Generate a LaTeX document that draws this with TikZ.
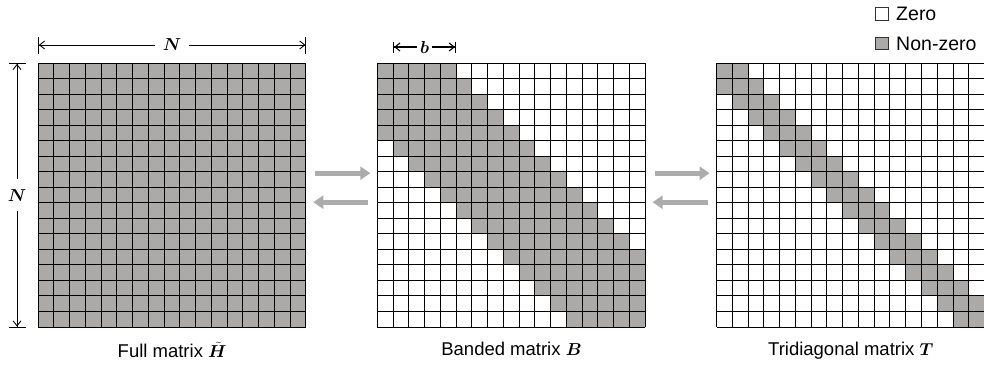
\documentclass[tikz,border=0pt]{standalone}
\usepackage{amsmath,amssymb,bm}
\usepackage{fontspec}
\setmainfont{Liberation Sans}
\usepackage{xcolor}
\usetikzlibrary{arrows.meta,positioning,calc}

\definecolor{nzgray}{RGB}{172,169,169}
\definecolor{flowgray}{RGB}{172,172,172}

\newcommand{\cellw}{15.76}
\newcommand{\cellh}{15.53}

\begin{document}
\begin{tikzpicture}[
		x=1pt,y=-1pt,
		every node/.style={font=\fontsize{18.5}{20}\selectfont},
		matbox/.style={
			draw=none,
			inner sep=0pt,
			minimum width=267.9pt,
			minimum height=264pt
		},
		gridline/.style={line width=1pt,black},
		flow/.style={
			line width=5pt,
			draw=flowgray,
			-{Triangle[length=10pt,width=13pt]}
		},
		dimline/.style={
			line width=0.9pt,
			{Bar[width=17pt]Straight Barb[length=5pt,width=8pt]}-{Straight Barb[length=5pt,width=8pt]Bar[width=17pt]}
		},
		legbox/.style={
			draw=black!80,
			line width=0.9pt,
			minimum size=12.5pt,
			inner sep=0pt
		},
		legtext/.style={font=\fontsize{19.5}{21}\selectfont}
		]
		
		\useasboundingbox (0,0) rectangle (984,364);
		
		\node[matbox,anchor=north west]
		(full) at (38,63)
		{};
		
		\node[matbox,right=71pt of full]
		(band)
		{};
		
		\node[matbox,right=71pt of band]
		(tri)
		{};
		
		% full matrix
		\begin{scope}[shift={(full.north west)}]
			\fill[nzgray] (0,0) rectangle (17*\cellw,17*\cellh);
			\foreach \k in {0,...,17}{
				\draw[gridline] (\k*\cellw,0) -- (\k*\cellw,17*\cellh);
				\draw[gridline] (0,\k*\cellh) -- (17*\cellw,\k*\cellh);
			}
		\end{scope}
		
		% banded matrix
		\begin{scope}[shift={(band.north west)}]
			\foreach \i in {0,...,16}{
				\foreach \j in {0,...,16}{
					\pgfmathtruncatemacro{\dd}{abs(\i-\j)}
					\ifnum\dd<5
					\fill[nzgray] (\j*\cellw,\i*\cellh) rectangle ++(\cellw,\cellh);
					\fi
				}
			}
			\foreach \k in {0,...,17}{
				\draw[gridline] (\k*\cellw,0) -- (\k*\cellw,17*\cellh);
				\draw[gridline] (0,\k*\cellh) -- (17*\cellw,\k*\cellh);
			}
		\end{scope}
		
		% tridiagonal matrix
		\begin{scope}[shift={(tri.north west)}]
			\foreach \i in {0,...,16}{
				\foreach \j in {0,...,16}{
					\pgfmathtruncatemacro{\dd}{abs(\i-\j)}
					\ifnum\dd<2
					\fill[nzgray] (\j*\cellw,\i*\cellh) rectangle ++(\cellw,\cellh);
					\fi
				}
			}
			\foreach \k in {0,...,17}{
				\draw[gridline] (\k*\cellw,0) -- (\k*\cellw,17*\cellh);
				\draw[gridline] (0,\k*\cellh) -- (17*\cellw,\k*\cellh);
			}
		\end{scope}
		
		\draw[dimline] ([yshift=18pt]full.north west) -- ([yshift=18pt]full.north east)
		node[midway,fill=white,inner xsep=8pt] (ntop) {$\boldsymbol{N}$};
		
		\draw[dimline] ([xshift=-21pt]full.north west) -- ([xshift=-21pt]full.south west)
		node[midway,fill=white,inner ysep=10pt] (nleft) {$\boldsymbol{N}$};
		
		\draw[line width=1.1pt,
		{Bar[width=11pt]Straight Barb[length=5pt,width=8pt]}-{Straight Barb[length=5pt,width=8pt]Bar[width=11pt]}]
		([xshift=\cellw pt,yshift=16pt]band.north west) -- ([xshift=5*\cellw pt,yshift=16pt]band.north west)
		node[midway,fill=white,inner xsep=3pt,inner ysep=1pt] (bw) {$\boldsymbol{b}$};
		
		\draw[flow] ([xshift=9pt,yshift=22pt]full.east) -- ([xshift=-7pt,yshift=22pt]band.west);
		\draw[flow] ([xshift=-9pt,yshift=-7pt]band.west) -- ([xshift=7pt,yshift=-7pt]full.east);
		\draw[flow] ([xshift=9pt,yshift=22pt]band.east) -- ([xshift=-7pt,yshift=22pt]tri.west);
		\draw[flow] ([xshift=-9pt,yshift=-7pt]tri.west) -- ([xshift=7pt,yshift=-7pt]band.east);
		
		\node[below=11pt of full] (lfull) {Full matrix $\boldsymbol{\tilde{H}}$};
		\node[below=11pt of band] (lband) {Banded matrix $\boldsymbol{B}$};
		\node[below=11pt of tri] (ltri) {Tridiagonal matrix $\boldsymbol{T}$};
		
		\node[legbox,fill=white] (zbox) at (882,14) {};
		\node[legtext,right=4pt of zbox] (ztext) {Zero};
		\node[legbox,fill=nzgray] (nzbox) at (882,43.5) {};
		\node[legtext,right=4pt of nzbox] (nztext) {Non-zero};
		
	\end{tikzpicture}
\end{document}
